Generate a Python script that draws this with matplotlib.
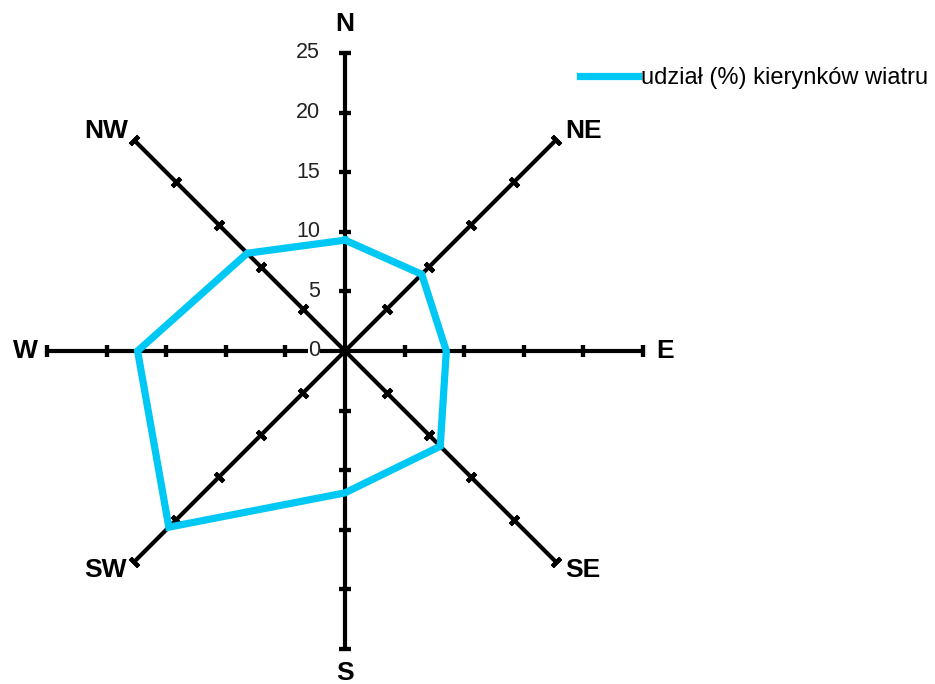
import numpy as np
import matplotlib
matplotlib.use('Agg')
import matplotlib.pyplot as plt

plt.rcParams['font.family'] = ['Liberation Sans', 'DejaVu Sans']

directions = ['N', 'NE', 'E', 'SE', 'S', 'SW', 'W', 'NW']
angles_deg = [0, 45, 90, 135, 180, 225, 270, 315]
udzial = [9.3, 9.1, 8.5, 11.3, 11.9, 20.9, 17.4, 11.6]
r_ticks = [0, 5, 10, 15, 20, 25]
series_name = 'udział (%) kierynków wiatru'

# label offsets (pixels) from the end of each spoke
label_offsets = [(0, 29), (28, 9), (22, 0), (27, -8), (0, -24), (-29, -8), (-22, 0), (-28, 9)]

fig = plt.figure(figsize=(9.35, 6.84), dpi=100)
ax = fig.add_axes([47 / 935, 35 / 684, 596 / 935, 596 / 684], projection='polar')
ax.set_theta_zero_location('N')
ax.set_theta_direction(-1)
ax.set_ylim(0, 25)
ax.grid(False)
ax.set_xticks([])
ax.set_yticks([])
ax.spines['polar'].set_visible(False)
ax.patch.set_alpha(0)

theta = np.deg2rad(angles_deg)

# spokes with cross ticks every 5
for th, deg in zip(theta, angles_deg):
    ax.plot([th, th], [0, 25], color='black', lw=3, solid_capstyle='butt', zorder=2)
    ax.plot(np.full(5, th), r_ticks[1:], ls='none', marker=(2, 2, 90 - deg),
            ms=8.5, mew=3, color='black', clip_on=False, zorder=2)

# radial labels on N axis
for v in r_ticks:
    ax.annotate(str(v), xy=(0, v), xytext=(-25, 0), textcoords='offset pixels',
                ha='right', va='center', fontsize=15.5, color='#222222', zorder=3,
                bbox=dict(facecolor='white', edgecolor='none', pad=0) if v == 0 else None)

# direction labels
for th, name, off in zip(theta, directions, label_offsets):
    ax.annotate(name, xy=(th, 25), xytext=off, textcoords='offset pixels',
                ha='center', va='center', fontsize=19, fontweight='bold',
                color='black', annotation_clip=False)

th_closed = np.append(theta, theta[0])
val_closed = np.append(udzial, udzial[0])
ax.plot(th_closed, val_closed, color='#00C8F5', lw=5.2, zorder=4, label=series_name,
        solid_joinstyle='miter')

ax.legend(loc='upper left', bbox_to_anchor=(580 / 935, 1 - 67 / 684),
          bbox_transform=fig.transFigure, frameon=False, fontsize=17,
          handlelength=2.45, handletextpad=0.12, borderpad=0, borderaxespad=0)

fig.savefig('out.png', dpi=100)
